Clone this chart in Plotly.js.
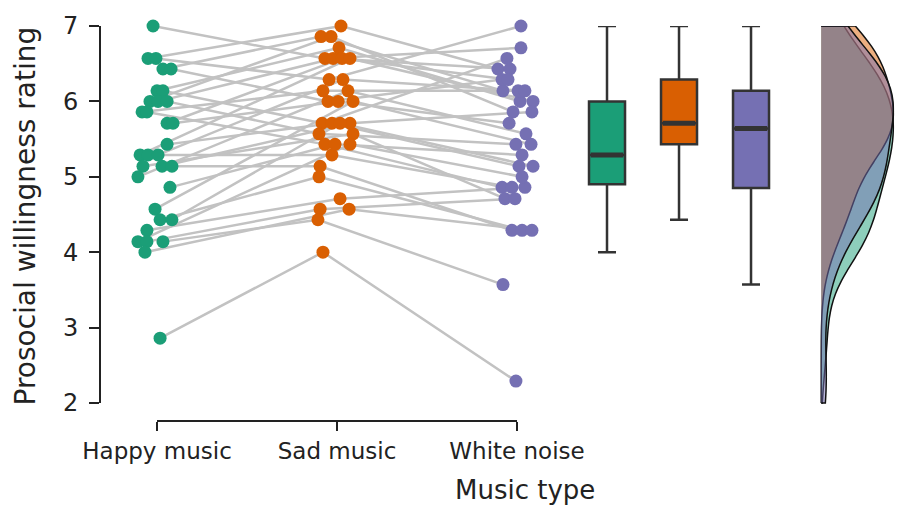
<!DOCTYPE html>
<html>
<head>
<meta charset="utf-8">
<script src="https://cdn.plot.ly/plotly-3.0.1.min.js"></script>
<style>html,body{margin:0;padding:0;background:#fff;}#chart{width:897px;height:506px;}</style>
</head>
<body>
<div id="chart"></div>
<script>
// ---- data ----
var categories = ["Happy music", "Sad music", "White noise"];
var happy = [7.0,6.57,6.57,6.43,6.43,6.14,6.14,6.0,6.0,6.0,5.86,5.86,5.71,5.71,5.43,5.29,5.29,5.29,5.14,5.14,5.14,5.0,4.86,4.57,4.43,4.43,4.29,4.14,4.14,4.14,4.0,2.86];
var sad   = [6.57,7.0,6.29,6.86,6.0,6.71,5.71,6.86,6.57,5.57,6.14,5.43,6.57,6.0,5.71,6.57,5.29,6.29,5.57,5.71,5.14,6.14,5.43,6.0,5.0,5.71,4.71,5.43,4.57,4.43,4.57,4.0];
var white = [6.71,6.43,7.0,6.14,6.29,6.0,6.57,5.86,6.43,5.43,6.14,4.86,6.29,5.71,5.14,6.0,4.86,6.14,4.71,5.86,4.29,5.57,5.29,5.43,4.29,5.14,4.86,5.0,4.71,3.57,4.29,2.29];
// horizontal jitter of each point (category units)
var jitterHappy = [-0.022,-0.050,-0.006,0.033,0.078,0.000,0.033,-0.039,0.006,0.056,-0.083,-0.056,0.056,0.089,0.056,-0.094,-0.050,0.006,-0.078,0.028,0.083,-0.106,0.072,-0.011,0.017,0.083,-0.056,-0.106,-0.056,0.033,-0.067,0.017];
var jitterSad   = [-0.067,0.022,-0.044,-0.089,-0.050,0.011,-0.083,-0.033,-0.022,-0.100,-0.078,-0.067,0.028,0.006,-0.028,0.072,-0.028,0.033,0.089,0.072,-0.094,0.061,-0.011,0.089,-0.100,0.017,0.017,0.072,-0.094,-0.106,0.067,-0.078];
var jitterWhite = [0.022,-0.106,0.022,-0.078,-0.083,0.017,-0.056,-0.022,-0.039,-0.006,0.006,-0.083,-0.050,-0.044,0.011,0.089,-0.028,0.044,-0.067,0.083,-0.028,0.050,0.028,0.078,0.028,0.089,0.044,0.028,-0.011,-0.078,0.083,-0.006];
// box statistics
var boxLower  = [4.0, 4.43, 3.57];
var boxQ1     = [4.90, 5.43, 4.85];
var boxMedian = [5.29, 5.71, 5.64];
var boxQ3     = [6.0, 6.29, 6.14];
var boxUpper  = [7.0, 7.0, 7.0];
var yTicks = [2, 3, 4, 5, 6, 7];

// ---- styling ----
var colors = ["#1b9e77", "#d95f02", "#7570b3"];
var fills  = ["rgba(27,158,119,0.5)", "rgba(217,95,2,0.5)", "rgba(117,112,179,0.5)"];
var groupX = [1, 2, 3];
var boxX = [3.5, 3.9, 4.3];
var boxW = 0.2;
var violinX = 4.69;
var font = "DejaVu Sans, sans-serif";
var ink = "#222";

var groups = [happy, sad, white];
var jitters = [jitterHappy, jitterSad, jitterWhite];

var traces = [];
// connecting lines
var lx = [], ly = [];
for (var i = 0; i < happy.length; i++) {
  for (var g = 0; g < 3; g++) {
    lx.push(groupX[g] + jitters[g][i]);
    ly.push(groups[g][i]);
  }
  lx.push(null); ly.push(null);
}
traces.push({type: "scatter", mode: "lines", x: lx, y: ly, connectgaps: false,
  line: {color: "#c2c2c2", width: 2.5}, hoverinfo: "skip", showlegend: false, cliponaxis: false});
// points
for (var g = 0; g < 3; g++) {
  traces.push({type: "scatter", mode: "markers",
    x: groups[g].map(function (v, i) { return groupX[g] + jitters[g][i]; }),
    y: groups[g], marker: {color: colors[g], size: 13}, showlegend: false, cliponaxis: false});
}
// boxes
for (var g = 0; g < 3; g++) {
  traces.push({type: "box", x: [boxX[g]], q1: [boxQ1[g]], median: [boxMedian[g]], q3: [boxQ3[g]],
    lowerfence: [boxLower[g]], upperfence: [boxUpper[g]], width: boxW, whiskerwidth: 0.5,
    fillcolor: colors[g], line: {color: "#333", width: 2.5}, boxpoints: false, showlegend: false});
  traces.push({type: "scatter", mode: "lines", x: [boxX[g] - boxW / 2 + 0.01, boxX[g] + boxW / 2 - 0.01],
    y: [boxMedian[g], boxMedian[g]], line: {color: "#333", width: 5}, showlegend: false, hoverinfo: "skip"});
}
// half violins (densities)
for (var g = 0; g < 3; g++) {
  traces.push({type: "violin", x0: violinX, y: groups[g], side: "positive", width: 0.8,
    scalemode: "width", spanmode: "manual", span: [2, 7], points: false,
    box: {visible: false}, meanline: {visible: false},
    fillcolor: fills[g], line: {color: "#111", width: 1.5}, showlegend: false, hoverinfo: "skip"});
}

var layout = {
  width: 897, height: 506,
  margin: {l: 100, r: 0, t: 26, b: 85},
  paper_bgcolor: "#fff", plot_bgcolor: "#fff",
  showlegend: false,
  violinmode: "overlay", boxmode: "overlay",
  font: {family: font, color: ink},
  xaxis: {range: [0.6833, 5.111], tickvals: groupX, ticktext: categories, ticks: "outside",
    ticklen: 9, tickwidth: 2, tickcolor: ink, showgrid: false, zeroline: false, showline: false,
    tickfont: {family: font, size: 23, color: ink}},
  yaxis: {range: [1.761, 7], tickvals: yTicks, ticks: "outside", ticklen: 10, tickwidth: 2,
    tickcolor: ink, showgrid: false, zeroline: false, showline: false, ticklabelstandoff: 6,
    tickfont: {family: font, size: 24, color: ink}},
  shapes: [
    {type: "line", xref: "paper", yref: "y", x0: 0, x1: 0, y0: 2, y1: 7, line: {color: ink, width: 2}},
    {type: "line", xref: "x", yref: "paper", x0: 1, x1: 3, y0: 0, y1: 0, line: {color: ink, width: 2}}
  ],
  annotations: [
    {text: "Music type", xref: "paper", yref: "paper", x: 0.533, y: -0.175, xanchor: "center",
     yanchor: "middle", showarrow: false, font: {family: font, size: 26, color: ink}},
    {text: "Prosocial willingness rating", xref: "paper", yref: "paper", x: -0.093, y: 0.52,
     xanchor: "center", yanchor: "middle", textangle: -90, showarrow: false,
     font: {family: font, size: 28, color: ink}}
  ]
};

Plotly.newPlot("chart", traces, layout, {displayModeBar: false, staticPlot: true});
</script>
</body>
</html>
